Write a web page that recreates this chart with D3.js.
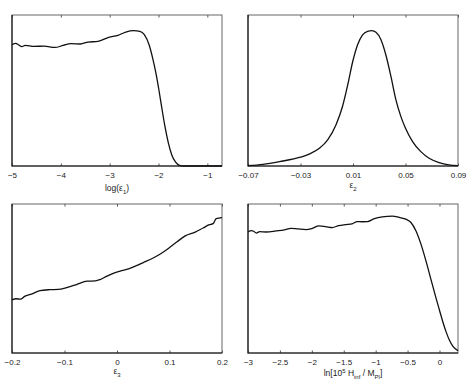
<!DOCTYPE html>
<html>
<head>
<meta charset="utf-8">
<script src="https://cdn.jsdelivr.net/npm/d3@7"></script>
<style>
  body { margin: 0; background: #fff; }
  svg { display: block; font-family: "Liberation Sans", Arial, sans-serif; }
  .tick text { font-size: 8px; fill: #222; }
  .tick line { stroke: #555; }
</style>
</head>
<body>
<svg id="chart" width="469" height="390"></svg>
<script>
// ---- data ----
// panel 1: log(eps1)
const p1X = [-5.0, -4.92, -4.87, -4.80, -4.73, -4.55, -4.34, -4.12, -3.95, -3.79, -3.60, -3.44, -3.24, -3.02,
  -2.83, -2.67, -2.51, -2.38, -2.29, -2.19, -2.12, -2.05, -1.99, -1.93, -1.87, -1.80, -1.73, -1.65, -1.57, -1.5, -1.2, -0.7];
const p1Y = [0.803, 0.812, 0.803, 0.790, 0.799, 0.792, 0.794, 0.785, 0.799, 0.810, 0.808, 0.821, 0.825, 0.852,
  0.865, 0.887, 0.896, 0.892, 0.870, 0.800, 0.715, 0.610, 0.500, 0.380, 0.265, 0.155, 0.075, 0.025, 0.004, 0, 0, 0];
const p1Ticks = [-5, -4, -3, -2, -1];

// panel 2: eps2
const p2X = [-0.07, -0.0586, -0.046, -0.03, -0.023, -0.0156, -0.0093, -0.003, 0.002, 0.006, 0.0098, 0.0135,
  0.0173, 0.0211, 0.0244, 0.0275, 0.0313, 0.035, 0.0389, 0.0427, 0.0465, 0.05, 0.0554, 0.0617, 0.068, 0.0756, 0.083, 0.09];
const p2Y = [0.002, 0.011, 0.029, 0.058, 0.080, 0.117, 0.173, 0.272, 0.394, 0.538, 0.692, 0.803,
  0.869, 0.892, 0.896, 0.885, 0.836, 0.737, 0.593, 0.438, 0.327, 0.250, 0.162, 0.095, 0.051, 0.022, 0.007, 0.002];
const p2Ticks = [-0.07, -0.03, 0.01, 0.05, 0.09];

// panel 3: eps3
const p3X = [-0.2, -0.192, -0.184, -0.176, -0.163, -0.147, -0.128, -0.112, -0.096, -0.077, -0.057, -0.041, -0.032,
  -0.019, -0.006, 0.006, 0.022, 0.037, 0.05, 0.068, 0.084, 0.099, 0.115, 0.130, 0.149, 0.164, 0.176, 0.183, 0.189, 0.2];
const p3Y = [0.357, 0.364, 0.361, 0.380, 0.395, 0.418, 0.425, 0.427, 0.439, 0.459, 0.482, 0.484, 0.493,
  0.516, 0.536, 0.550, 0.564, 0.586, 0.607, 0.636, 0.668, 0.705, 0.748, 0.786, 0.811, 0.839, 0.861, 0.868, 0.902, 0.909];
const p3Ticks = [-0.2, -0.1, 0, 0.1, 0.2];

// panel 4: ln[10^5 H_inf / M_Pl]
const p4X = [-3, -2.948, -2.912, -2.870, -2.818, -2.715, -2.56, -2.43, -2.326, -2.22, -2.09, -1.99, -1.89, -1.78,
  -1.68, -1.58, -1.47, -1.37, -1.29, -1.21, -1.13, -1.03, -0.895, -0.737, -0.632, -0.526, -0.447, -0.368, -0.289,
  -0.21, -0.132, -0.053, 0.0, 0.053, 0.105, 0.158, 0.211, 0.289];
const p4Y = [0.812, 0.821, 0.817, 0.805, 0.814, 0.812, 0.819, 0.826, 0.837, 0.833, 0.828, 0.837, 0.853, 0.848,
  0.842, 0.855, 0.862, 0.867, 0.882, 0.881, 0.882, 0.900, 0.914, 0.919, 0.910, 0.898, 0.876, 0.819, 0.729,
  0.615, 0.491, 0.367, 0.287, 0.208, 0.140, 0.084, 0.045, 0.016];
const p4Ticks = [-3, -2.5, -2, -1.5, -1, -0.5, 0];

const svg = d3.select('#chart');

// layout of the four boxes
const panels = [
  { xs: p1X, ys: p1Y, ticks: p1Ticks, domain: [-5, -0.7], left: 12, top: 15, w: 210, h: 151,
    label: [['log(ε', 0], ['1', 1], [')', 0]], labelY: 191 },
  { xs: p2X, ys: p2Y, ticks: p2Ticks, domain: [-0.07, 0.09], left: 248, top: 15, w: 210, h: 151,
    label: [['ε', 0], ['2', 1]], labelY: 188 },
  { xs: p3X, ys: p3Y, ticks: p3Ticks, domain: [-0.2, 0.2], left: 12, top: 204, w: 210, h: 149,
    label: [['ε', 0], ['3', 1]], labelY: 374 },
  { xs: p4X, ys: p4Y, ticks: p4Ticks, domain: [-3, 0.29], left: 248, top: 204, w: 210, h: 149,
    label: [['ln[10', 0], ['5', 2], [' H', 0], ['inf', 1], [' / M', 0], ['Pl', 1], [']', 0]], labelY: 376 }
];

const fmt = d => String(d).replace('-', '\u2212');

panels.forEach(p => {
  const g = svg.append('g').attr('transform', `translate(${p.left},${p.top})`);
  const x = d3.scaleLinear().domain(p.domain).range([0, p.w]);
  const y = d3.scaleLinear().domain([0, 1]).range([p.h, 0]);

  // bottom axis, inward ticks
  const bottom = g.append('g')
    .attr('transform', `translate(0,${p.h})`)
    .call(d3.axisBottom(x).tickValues(p.ticks).tickSizeInner(-2.5).tickSizeOuter(0).tickPadding(6.5).tickFormat(fmt));
  bottom.select('.domain').remove();

  // top axis ticks only
  const top = g.append('g')
    .call(d3.axisTop(x).tickValues(p.ticks).tickSizeInner(-2.5).tickSizeOuter(0).tickFormat(''));
  top.select('.domain').remove();

  // box
  g.append('rect')
    .attr('x', 0).attr('y', 0).attr('width', p.w).attr('height', p.h)
    .attr('fill', 'none').attr('stroke', '#666').attr('stroke-width', 1);
  g.append('path')
    .attr('d', `M0,0V${p.h}H${p.w}`)
    .attr('fill', 'none').attr('stroke', '#111').attr('stroke-width', 1.1);

  // curve
  const line = d3.line()
    .x((d, i) => x(p.xs[i]))
    .y(d => y(d))
    .curve(d3.curveMonotoneX);
  g.append('path')
    .datum(p.ys)
    .attr('d', line)
    .attr('fill', 'none')
    .attr('stroke', '#111')
    .attr('stroke-width', 1.3);

  // x label with sub/superscripts
  const t = svg.append('text')
    .attr('x', p.left + p.w / 2)
    .attr('y', p.labelY)
    .attr('text-anchor', 'middle')
    .style('font-size', '8.5px')
    .style('fill', '#222');
  let shift = 0;
  p.label.forEach(([s, kind]) => {
    const target = kind === 1 ? 2.5 : kind === 2 ? -3.5 : 0;
    t.append('tspan')
      .attr('dy', target - shift)
      .style('font-size', kind ? '6px' : '8.5px')
      .text(s);
    shift = target;
  });
});
</script>
</body>
</html>
